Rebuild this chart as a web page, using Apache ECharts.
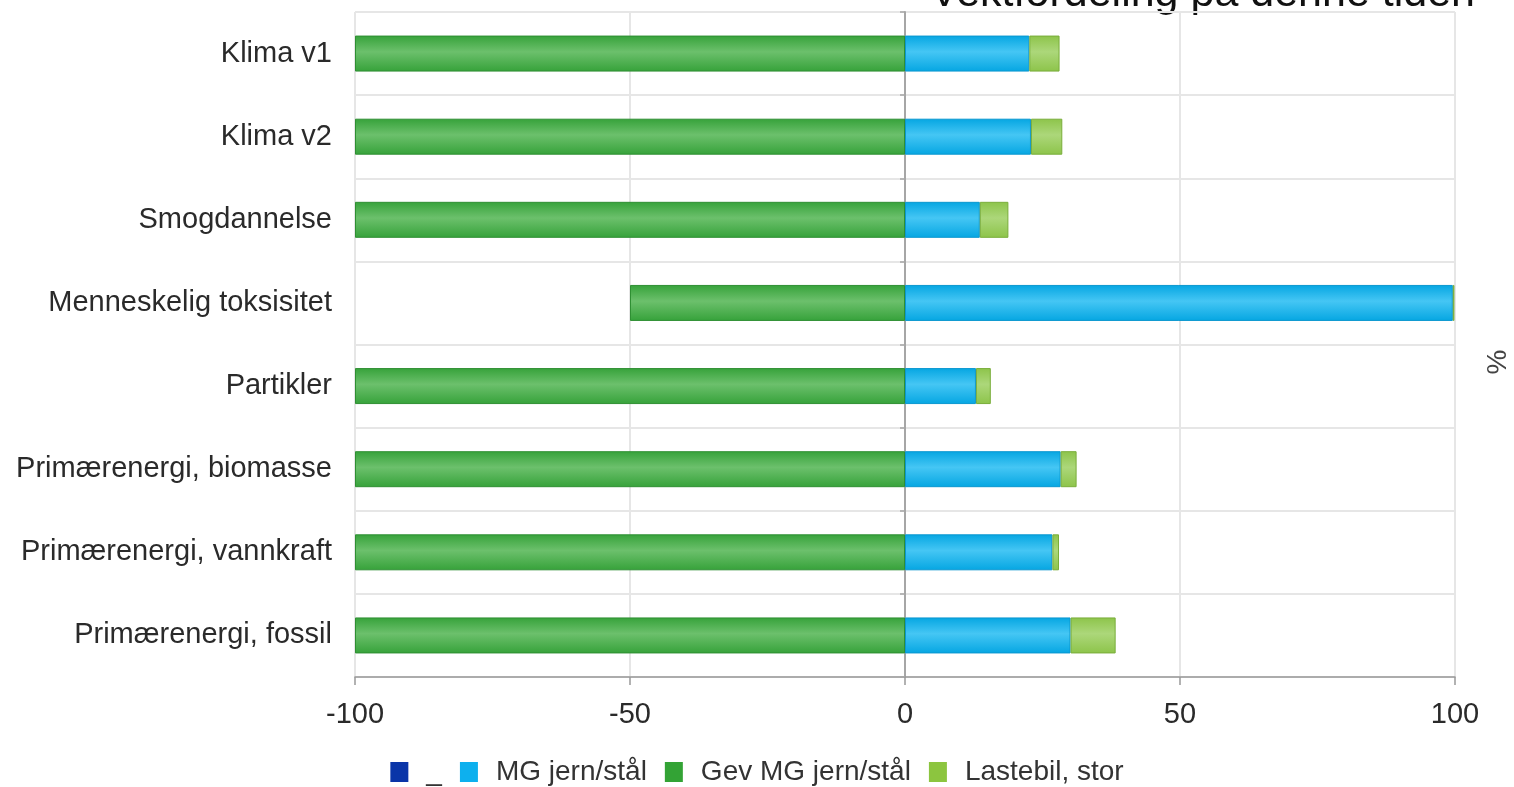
<!DOCTYPE html>
<html>
<head>
<meta charset="utf-8">
<script src="https://cdn.jsdelivr.net/npm/echarts@6/dist/echarts.min.js"></script>
<style>
html,body{margin:0;padding:0;background:#fff;}
#chart{width:1514px;height:787px;}
</style>
</head>
<body>
<div id="chart"></div>
<script>
var categories = ["Klima v1","Klima v2","Smogdannelse","Menneskelig toksisitet","Partikler","Primærenergi, biomasse","Primærenergi, vannkraft","Primærenergi, fossil"];
var seriesNames = ["_","MG jern/stål","Gev MG jern/stål","Lastebil, stor"];
var underscoreValues = [0,0,0,0,0,0,0,0];
var mgValues = [22.6,22.9,13.6,99.6,12.9,28.3,26.8,30.1];
var gevValues = [-100,-100,-100,-50,-100,-100,-100,-100];
var lastebilValues = [5.5,5.7,5.2,0.3,2.7,2.9,1.2,8.2];
var xTicks = [-100,-50,0,50,100];
var titleText = "Vektfordeling på denne tiden";
var unitText = "%";

var FONT = "'Liberation Sans', Arial, sans-serif";
function grad(edge, mid){
  return {type:'linear',x:0,y:0,x2:0,y2:1,colorStops:[
    {offset:0,color:edge},{offset:0.45,color:mid},{offset:1,color:edge}]};
}
var chart = echarts.init(document.getElementById('chart'), null, {renderer:'canvas'});
var option = {
  animation:false,
  backgroundColor:'#fff',
  grid:[
    {left:355,right:59,top:12,bottom:110,containLabel:false},
    {left:905,width:1,top:12,bottom:110,containLabel:false}
  ],
  legend:{
    bottom:-4,left:'center',
    itemWidth:18,itemHeight:20,itemGap:18,
    icon:'rect',
    textStyle:{fontFamily:FONT,fontSize:28,color:'#333',padding:[0,0,0,13]}
  },
  xAxis:[{
    type:'value',gridIndex:0,min:xTicks[0],max:xTicks[xTicks.length-1],interval:50,
    axisLine:{show:true,onZero:false,lineStyle:{color:'#999',width:1.5}},
    axisTick:{show:true,length:8,lineStyle:{color:'#999',width:1.5}},
    axisLabel:{fontFamily:FONT,fontSize:29,color:'#2a2a2a',margin:23},
    splitLine:{show:true,lineStyle:{color:'#e6e6e6',width:2}}
  },{
    type:'value',gridIndex:1,min:0,max:1,show:false
  }],
  yAxis:[{
    type:'category',gridIndex:0,data:categories,inverse:true,
    axisLine:{show:false},axisTick:{show:false},
    axisLabel:{fontFamily:FONT,fontSize:29,color:'#2a2a2a',margin:23},
    splitLine:{show:true,lineStyle:{color:'#e6e6e6',width:2}}
  },{
    type:'category',gridIndex:1,data:categories,inverse:true,position:'left',
    axisLine:{show:true,onZero:false,lineStyle:{color:'#a6a6a6',width:2}},
    axisTick:{show:true,length:5,lineStyle:{color:'#a6a6a6',width:1.5}},
    axisLabel:{show:false},splitLine:{show:false}
  }],
  graphic:[
    {type:'text',x:1475,y:-6,style:{text:titleText,font:'43px '+FONT,fill:'#111',textAlign:'right',textVerticalAlign:'middle'}},
    {type:'text',x:1484,y:362,rotation:Math.PI/2,style:{text:unitText,font:'28px '+FONT,fill:'#444',textAlign:'center',textVerticalAlign:'top'}}
  ],
  series:[
    {name:seriesNames[0],type:'bar',stack:'s',barWidth:36,data:underscoreValues,
      itemStyle:{color:'#0a35a8'}},
    {name:seriesNames[1],type:'bar',stack:'s',barWidth:36,data:mgValues,
      itemStyle:{color:grad('#05a6e2','#45c6f4'),borderColor:'#0b97cf',borderWidth:1}},
    {name:seriesNames[2],type:'bar',stack:'s',barWidth:36,data:gevValues,
      itemStyle:{color:grad('#36a23a','#6cc06c'),borderColor:'#2f8f33',borderWidth:1}},
    {name:seriesNames[3],type:'bar',stack:'s',barWidth:36,data:lastebilValues,
      itemStyle:{color:grad('#8dc44a','#acd77a'),borderColor:'#79ad3a',borderWidth:1}}
  ]
};
option.legend.data = [
  {name:seriesNames[0],itemStyle:{color:'#0a35a8',borderWidth:0}},
  {name:seriesNames[1],itemStyle:{color:'#0db0ee',borderWidth:0}},
  {name:seriesNames[2],itemStyle:{color:'#33a335',borderWidth:0}},
  {name:seriesNames[3],itemStyle:{color:'#8cc53f',borderWidth:0}}
];
chart.setOption(option);
</script>
</body>
</html>
